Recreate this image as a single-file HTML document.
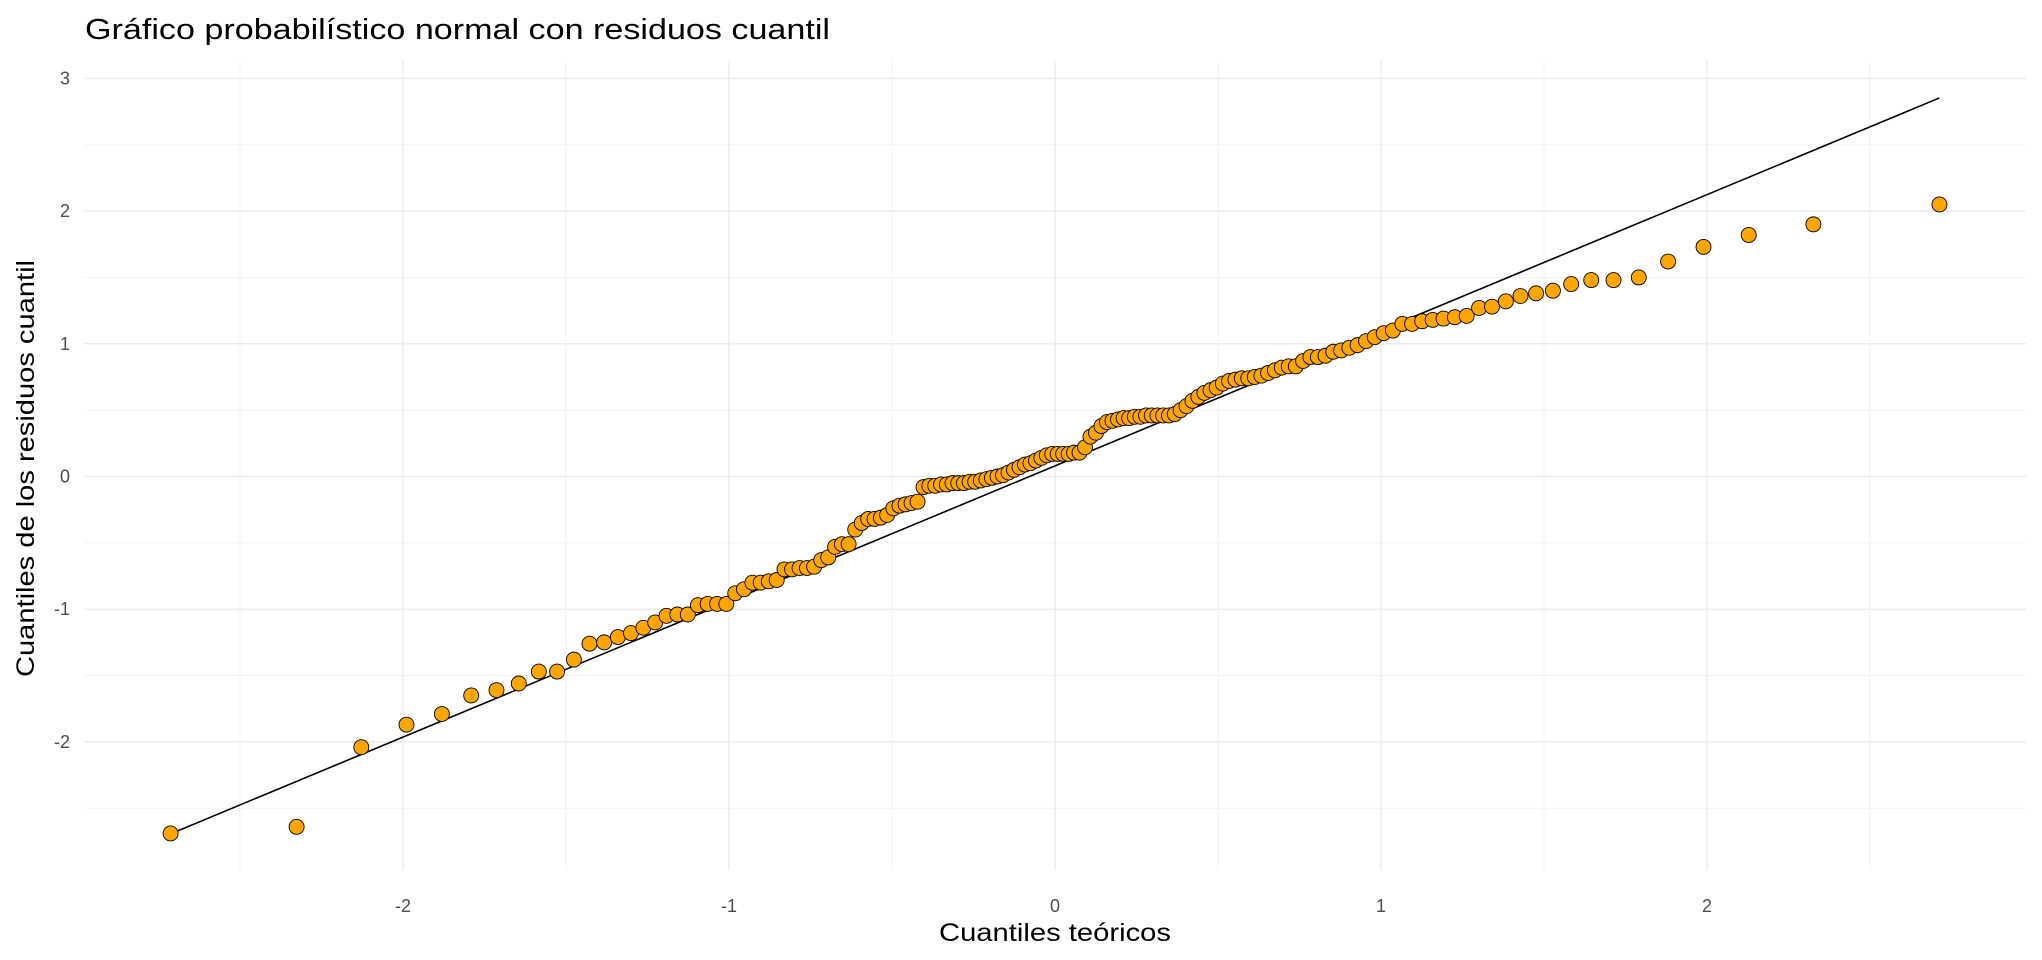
<!DOCTYPE html>
<html><head><meta charset="utf-8"><style>
html,body{margin:0;padding:0;background:#fff;}
svg{display:block;font-family:"Liberation Sans",Arial,sans-serif;}
</style></head><body>
<svg id="chart" width="2042" height="960" viewBox="0 0 2042 960">
<rect width="2042" height="960" fill="#fff"/>
<g id="grid"></g>
<g id="axes"></g>
<g id="line"></g>
<g id="pts"></g>
<text x="85" y="39" font-size="29" textLength="745" lengthAdjust="spacingAndGlyphs" fill="#000">Gráfico probabilístico normal con residuos cuantil</text>
<text x="1055" y="941" font-size="25" textLength="232" lengthAdjust="spacingAndGlyphs" fill="#000" text-anchor="middle">Cuantiles teóricos</text>
<text transform="translate(34,677) rotate(-90)" font-size="25" textLength="417" lengthAdjust="spacingAndGlyphs" fill="#000">Cuantiles de los residuos cuantil</text>
</svg>
<script>
const residuals = [-2.69,-2.64,-2.04,-1.87,-1.79,-1.65,-1.61,-1.56,-1.47,-1.47,-1.38,-1.26,-1.25,-1.21,-1.18,-1.14,
-1.10,-1.05,-1.04,-1.04,-0.97,-0.96,-0.96,-0.96,-0.88,-0.85,-0.80,-0.80,-0.79,-0.78,
-0.70,-0.70,-0.69,-0.69,-0.68,-0.63,-0.61,-0.53,-0.51,-0.51,-0.40,-0.35,-0.32,-0.32,-0.31,
-0.29,-0.24,-0.22,-0.21,-0.20,-0.19,-0.08,-0.07,-0.07,-0.06,-0.06,-0.05,-0.05,-0.05,-0.04,
-0.04,-0.03,-0.02,-0.01,0.00,0.01,0.03,0.05,0.07,0.09,0.10,0.12,0.14,0.16,0.17,
0.17,0.17,0.17,0.18,0.18,0.22,0.30,0.33,0.38,0.41,0.42,0.43,0.44,0.44,0.45,
0.45,0.46,0.46,0.46,0.46,0.46,0.47,0.50,0.53,0.57,0.60,0.63,0.65,0.67,0.70,
0.72,0.73,0.74,0.74,0.75,0.76,0.78,0.80,0.82,0.83,0.83,0.87,0.90,0.90,0.91,
0.94,0.95,0.97,0.99,1.02,1.05,1.08,1.10,1.15,1.15,1.17,1.18,1.19,1.20,1.21,
1.27,1.28,1.32,1.36,1.38,1.40,1.45,1.48,1.48,1.50,1.62,1.73,1.82,1.90,2.05];
const xTicks = [-2,-1,0,1,2];
const yTicks = [-2,-1,0,1,2,3];
const xTickLabels = ["-2","-1","0","1","2"];
const yTickLabels = ["-2","-1","0","1","2","3"];
const lineIntercept = 0.08;
const lineSlope = 1.022;

const NS="http://www.w3.org/2000/svg";
const X0=1055, XS=326, Y0=476.5, YS=132.7;
const PL=84, PR=2026, PT=61, PB=870;
const sx=v=>X0+v*XS, sy=v=>Y0-v*YS;
function mk(tag,attrs,parent){const e=document.createElementNS(NS,tag);for(const k in attrs)e.setAttribute(k,attrs[k]);parent.appendChild(e);return e;}
function qnorm(p){const a=[-39.6968302866538,220.946098424521,-275.928510446969,138.357751867269,-30.6647980661472,2.50662827745924],
b=[-54.4760987982241,161.585836858041,-155.698979859887,66.8013118877197,-13.2806815528857],
c=[-0.00778489400243029,-0.322396458041136,-2.40075827716184,-2.54973253934373,4.37466414146497,2.93816398269878],
d=[0.00778469570904146,0.32246712907004,2.445134137143,3.75440866190742];
const pl=0.02425;let q,r;
if(p<pl){q=Math.sqrt(-2*Math.log(p));return (((((c[0]*q+c[1])*q+c[2])*q+c[3])*q+c[4])*q+c[5])/((((d[0]*q+d[1])*q+d[2])*q+d[3])*q+1);}
if(p>1-pl){q=Math.sqrt(-2*Math.log(1-p));return -(((((c[0]*q+c[1])*q+c[2])*q+c[3])*q+c[4])*q+c[5])/((((d[0]*q+d[1])*q+d[2])*q+d[3])*q+1);}
q=p-0.5;r=q*q;return (((((a[0]*r+a[1])*r+a[2])*r+a[3])*r+a[4])*r+a[5])*q/(((((b[0]*r+b[1])*r+b[2])*r+b[3])*r+b[4])*r+1);}

const grid=document.getElementById('grid'), axes=document.getElementById('axes');
for(let v=-2.5;v<=2.5;v+=1){const g=mk('line',{x1:sx(v),x2:sx(v),y1:PT,y2:PB,stroke:'#f2f2f2','stroke-width':1},grid);

}
for(let v=-2.5;v<=2.5;v+=1){const g=mk('line',{x1:PL,x2:PR,y1:sy(v),y2:sy(v),stroke:'#f2f2f2','stroke-width':1},grid);

}
xTicks.forEach((v,i)=>{const g=mk('line',{x1:sx(v),x2:sx(v),y1:PT,y2:PB,stroke:'#ebebeb','stroke-width':1.5},grid);


const t=mk('text',{x:sx(v),y:912,'font-size':18,fill:'#4d4d4d','text-anchor':'middle'},axes);t.textContent=xTickLabels[i];

});
yTicks.forEach((v,i)=>{const g=mk('line',{x1:PL,x2:PR,y1:sy(v),y2:sy(v),stroke:'#ebebeb','stroke-width':1.5},grid);


const t=mk('text',{x:70,y:sy(v)+6,'font-size':18,fill:'#4d4d4d','text-anchor':'end'},axes);t.textContent=yTickLabels[i];

});

const n=residuals.length;
const theo=residuals.map((_,i)=>qnorm((i+0.5)/n));
const xmin=theo[0], xmax=theo[n-1];
const ln=mk('line',{x1:sx(xmin),y1:sy(lineIntercept+lineSlope*xmin),x2:sx(xmax),y2:sy(lineIntercept+lineSlope*xmax),stroke:'#000','stroke-width':1.6},document.getElementById('line'));


const pts=document.getElementById('pts');
residuals.forEach((v,i)=>{const c=mk('circle',{cx:sx(theo[i]),cy:sy(v),r:7.5,fill:'#ffa500',stroke:'#000','stroke-width':0.9},pts);

});
</script>
</body></html>
